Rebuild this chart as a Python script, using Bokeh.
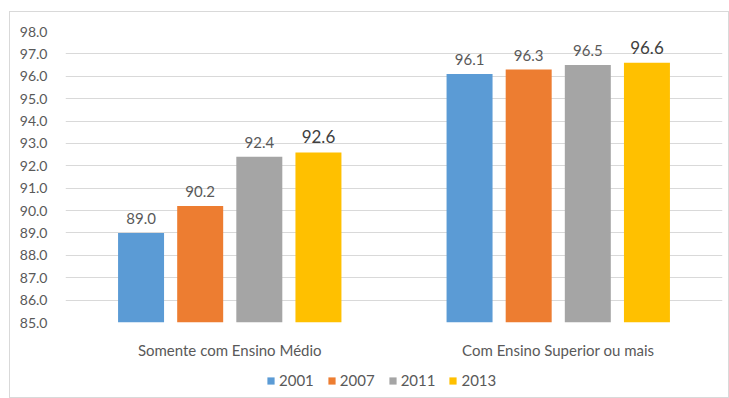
from bokeh.plotting import figure
from bokeh.models import ColumnDataSource, FactorRange, Legend, LegendItem, FixedTicker, NumeralTickFormatter, Range1d
from bokeh.layouts import column
from bokeh.transform import dodge
from bokeh.core.properties import value
from bokeh.embed import file_html
from bokeh.resources import INLINE

categories = ["Somente com Ensino Médio", "Com Ensino Superior ou mais"]
years = ["2001", "2007", "2011", "2013"]
v2001 = [89.0, 96.1]
v2007 = [90.2, 96.3]
v2011 = [92.4, 96.5]
v2013 = [92.6, 96.6]
colors = ["#5B9BD5", "#ED7D31", "#A5A5A5", "#FFC000"]
y_ticks = [85.0 + i for i in range(14)]

series = [v2001, v2007, v2011, v2013]
offsets = [-0.27, -0.09, 0.09, 0.27]
FONT = "Lato"

p = figure(x_range=FactorRange(*categories), y_range=(85, 98),
           width=718, height=350, output_backend="svg", toolbar_location=None,
           min_border_left=55, min_border_right=6, min_border_top=19, min_border_bottom=40)
p.outline_line_color = None
p.background_fill_color = "white"

for yr, vals, off, col in zip(years, series, offsets, colors):
    src = ColumnDataSource(dict(cat=categories, val=vals, lab=["%.1f" % v for v in vals]))
    p.vbar(x=dodge("cat", off, range=p.x_range), top="val", bottom=85, width=0.14,
           source=src, fill_color=col, line_color=None)
    big = yr == "2013"
    p.text(x=dodge("cat", off, range=p.x_range), y="val", text="lab", source=src,
           text_align="center", text_baseline="bottom", y_offset=-9,
           text_font=value(FONT), text_font_size="17px" if big else "15px",
           text_color="#404040" if big else "#595959")

p.yaxis.ticker = FixedTicker(ticks=y_ticks)
p.yaxis.formatter = NumeralTickFormatter(format="0.0")
p.yaxis.axis_line_color = None
p.yaxis.major_tick_line_color = None
p.yaxis.minor_tick_line_color = None
p.yaxis.major_label_text_font = FONT
p.yaxis.major_label_text_font_size = "14px"
p.yaxis.major_label_text_color = "#595959"
p.yaxis.major_label_standoff = 12

p.xaxis.axis_line_color = None
p.xaxis.major_tick_line_color = None
p.xaxis.major_label_text_font = FONT
p.xaxis.major_label_text_font_size = "15px"
p.xaxis.major_label_text_color = "#595959"
p.xaxis.major_label_standoff = 12

p.xgrid.grid_line_color = None
p.ygrid.grid_line_color = "#d9d9d9"
p.ygrid.ticker = FixedTicker(ticks=y_ticks)

# legend strip (zero-height proxy bars carry the legend swatches)
p2 = figure(width=718, height=35, output_backend="svg", toolbar_location=None,
            x_range=Range1d(0, 1), y_range=Range1d(0, 1),
            min_border=0, x_axis_type=None, y_axis_type=None)
p2.outline_line_color = None
p2.grid.visible = False
items = []
for yr, col in zip(years, colors):
    proxy = ColumnDataSource(dict(x=[0.5], top=[0.0]))
    r = p2.vbar(x="x", top="top", bottom=0.0, width=0.0, source=proxy,
                fill_color=col, line_color=None)
    items.append(LegendItem(label=yr, renderers=[r]))
legend = Legend(items=items, orientation="horizontal", location=(201, 8),
                glyph_width=9, glyph_height=9, label_standoff=4, spacing=13,
                label_text_font=FONT, label_text_font_size="15px", label_text_color="#595959",
                border_line_color=None, background_fill_alpha=0, padding=0, margin=0)
p2.add_layout(legend, "center")

layout = column(p, p2, spacing=0)
layout.styles = {"margin-left": "9px", "margin-top": "11px", "border": "1px solid #d9d9d9"}

open("out.html", "w").write(file_html(layout, INLINE))
